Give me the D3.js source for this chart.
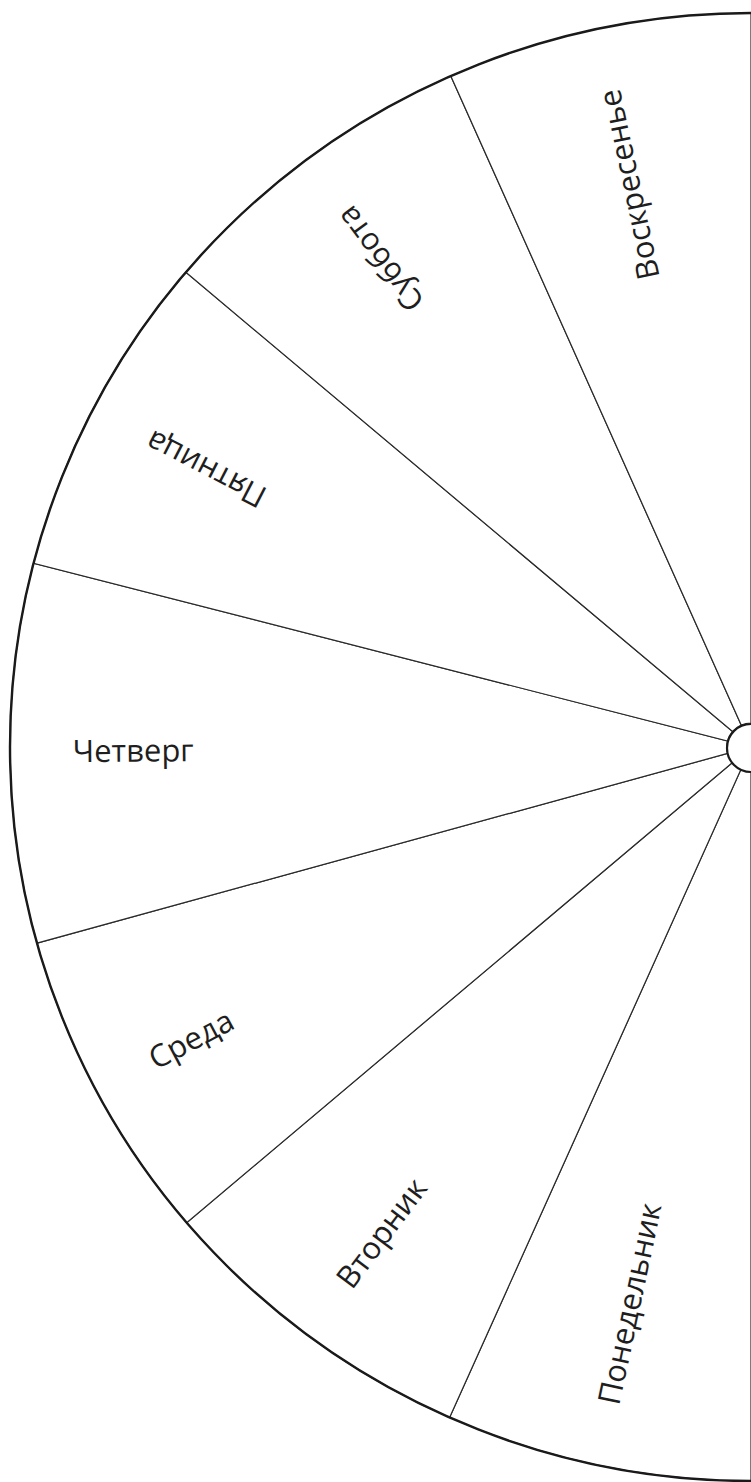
<!DOCTYPE html>
<html>
<head>
<meta charset="utf-8">
<script src="https://cdn.jsdelivr.net/npm/d3@7"></script>
<style>
  body { margin: 0; background: #fff; }
  svg { display: block; }
</style>
</head>
<body>
<div id="wheel"></div>
<script>
var svgWidth = 751;
var svgHeight = 1482;

// days, clockwise from the bottom of the half wheel
var days = ["Понедельник", "Вторник", "Среда", "Четверг", "Пятница", "Суббота", "Воскресенье"];
// angular width of each sector (degrees)
var sectorDegrees = [24.0, 25.6, 24.9, 30.0, 25.8, 25.8, 23.9];

// wheel geometry
var cx = 751;
var cy = 747;
var radius = 734;
var stretchX = 741 / 734;   // the drawing is a little wider than tall
var hubRadius = 24;
var labelOuter = 672;

var svg = d3.select("#wheel")
    .append("svg")
    .attr("width", svgWidth)
    .attr("height", svgHeight);

svg.append("rect")
    .attr("width", svgWidth)
    .attr("height", svgHeight)
    .attr("fill", "#fff");

var pie = d3.pie()
    .sort(null)
    .value(d => d)
    .startAngle(Math.PI)
    .endAngle(2 * Math.PI);

var arcs = pie(sectorDegrees);

var arc = d3.arc()
    .innerRadius(hubRadius)
    .outerRadius(radius);

// sectors
var wheelGroup = svg.append("g")
    .attr("transform", `translate(${cx}, ${cy}) scale(${stretchX}, 1)`);

wheelGroup.selectAll("path.sector")
    .data(arcs)
    .enter()
    .append("path")
    .attr("class", "sector")
    .attr("d", arc)
    .attr("fill", "#fff")
    .attr("stroke", "#2a2a2a")
    .attr("stroke-width", 1.2);

// thicker rim
var rim = d3.arc()
    .innerRadius(radius)
    .outerRadius(radius)
    .startAngle(Math.PI)
    .endAngle(2 * Math.PI);

wheelGroup.append("path")
    .attr("d", rim())
    .attr("fill", "none")
    .attr("stroke", "#1a1a1a")
    .attr("stroke-width", 2.4);

// hub
svg.append("circle")
    .attr("cx", cx)
    .attr("cy", cy + 1)
    .attr("r", hubRadius)
    .attr("fill", "#fff")
    .attr("stroke", "#1a1a1a")
    .attr("stroke-width", 2.2);

// labels, written along the radius
var labelGroup = svg.append("g")
    .attr("transform", `translate(${cx}, ${cy})`);

labelGroup.selectAll("text")
    .data(arcs)
    .enter()
    .append("text")
    .each(function(d, i) {
        var a = (d.startAngle + d.endAngle) / 2;
        var deg = a * 180 / Math.PI;
        var outward = deg > 275;
        var rot = outward ? deg - 450 : deg - 270;
        var x = Math.sin(a) * labelOuter * stretchX;
        var y = -Math.cos(a) * labelOuter;
        d3.select(this)
            .attr("transform", `translate(${x}, ${y}) rotate(${rot})`)
            .attr("text-anchor", outward ? "end" : "start")
            .attr("dy", "0.3em")
            .text(days[i]);
    })
    .attr("font-family", "'Open Sans', 'Noto Sans', sans-serif")
    .attr("font-size", "31px")
    .attr("fill", "#1e1e1e");
</script>
</body>
</html>
